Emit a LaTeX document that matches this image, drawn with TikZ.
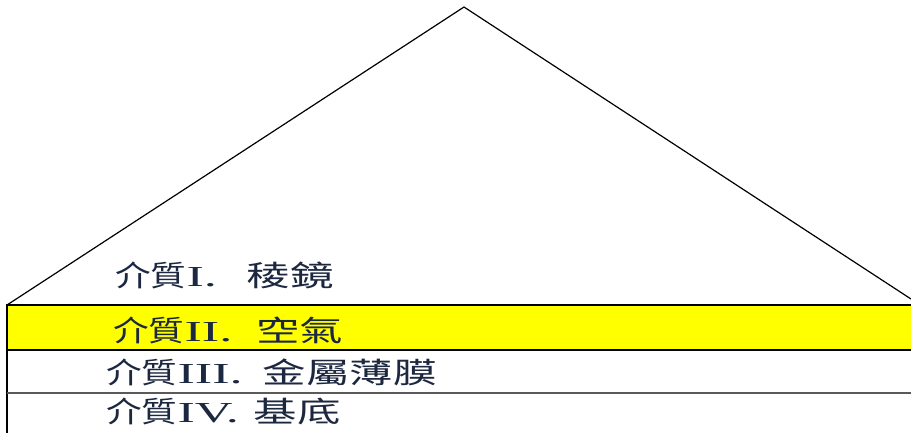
\documentclass[tikz,border=0pt]{standalone}
\usepackage{fontspec}
\setmainfont{Liberation Serif}[FakeStretch=1.8]
\newfontfamily\cjka{Noto Sans CJK TC}[FakeStretch=1.23]
\newfontfamily\cjkb{Noto Sans CJK TC}[FakeStretch=1.5]
\definecolor{txtnavy}{HTML}{1C2740}
\definecolor{ylw}{HTML}{FFFF00}
\definecolor{grayline}{HTML}{5A5A5A}
\tikzset{
  lbl/.style={anchor=west, inner sep=0pt, text=txtnavy, font=\fontsize{29}{29}\selectfont},
  edge/.style={draw=black, line width=1.2pt},
  band/.style={draw=black, line width=2pt}
}
\begin{document}
\begin{tikzpicture}[x=1pt,y=-1pt]
\useasboundingbox (0,0) rectangle (911,432);
\coordinate (apex) at (464,7);
\coordinate (bl) at (7,305);
\coordinate (br) at (911,299);
\draw[edge] (bl) -- (apex) -- (br);
\fill[ylw] (7,305) rectangle (915,350);
\coordinate (yl) at (7,305);
\coordinate (yr) at (915,305);
\coordinate (ybl) at (7,350);
\coordinate (ybr) at (915,350);
\coordinate (gl) at (7,393);
\coordinate (gr) at (915,393);
\coordinate (bot) at (7,435);
\draw[band] (yr) -- (yl) -- (ybl) -- (ybr);
\draw[band] (ybl) -- (bot);
\draw[grayline, line width=1.6pt] (gl) -- (gr);
\node[lbl] (m1) at (115,275) {{\cjka 介質}I.\hspace{30pt}{\cjkb 稜鏡}};
\node[lbl] (m2) at (113,330) {{\cjka 介質}II.\hspace{24pt}{\cjkb 空氣}};
\node[lbl] (m3) at (106,372) {{\cjka 介質}III.\hspace{20pt}{\cjkb 金屬薄膜}};
\node[lbl] (m4) at (106,411) {{\cjka 介質}IV.\hspace{15pt}{\cjkb 基底}};
\end{tikzpicture}
\end{document}
